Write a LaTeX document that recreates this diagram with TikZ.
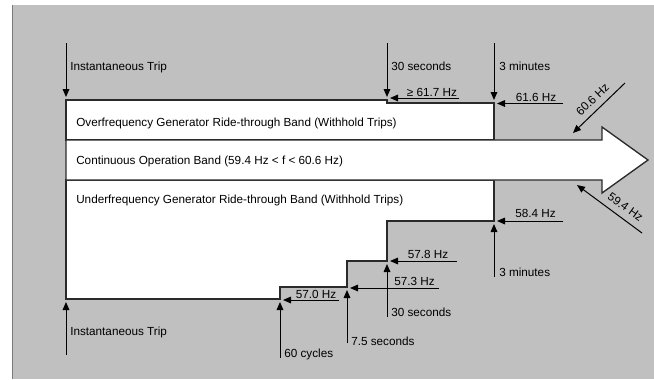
\documentclass[tikz,border=0pt]{standalone}
\usepackage{fontspec}
\setmainfont{Liberation Sans}
\usetikzlibrary{arrows.meta}
\definecolor{bggray}{HTML}{C0C0C0}
\definecolor{edgegray}{HTML}{7A7A7A}
\definecolor{bandline}{HTML}{2A2A2A}
\begin{document}
\begin{tikzpicture}[x=0.75pt,y=-0.75pt,
  lbl/.style={font=\fontsize{8.8}{10}\selectfont, inner sep=0pt, anchor=base west},
  clbl/.style={font=\fontsize{8.8}{10}\selectfont, inner sep=0pt, anchor=base},
  rlbl/.style={font=\fontsize{8.8}{10}\selectfont, inner sep=0pt},
  arr/.style={-{Triangle[length=6pt,width=5pt]}, line width=0.75pt, black},
  band/.style={fill=white, draw=bandline, line width=1pt}]
\useasboundingbox (0,0) rectangle (654,379);
\fill[white] (0,0) rectangle (654,379);
\fill[bggray] (12,5) rectangle (654,379);
\draw[edgegray, line width=1pt] (12.5,5) -- (12.5,379);
% bands
\draw[band] (66,100) -- (387,100) -- (387,103) -- (494,103) -- (494,140) -- (66,140) -- cycle;
\draw[band] (66,180) -- (494,180) -- (494,221) -- (387,221) -- (387,261) -- (347,261) -- (347,287) -- (280,287) -- (280,299) -- (66,299) -- cycle;
\draw[band] (66,140) -- (602,140) -- (602,127) -- (648,160) -- (602,193) -- (602,180) -- (66,180) -- cycle;
% band labels
\node[lbl] (over) at (76,126) {Overfrequency Generator Ride-through Band (Withhold Trips)};
\node[lbl] (cont) at (76,164) {Continuous Operation Band (59.4 Hz < f < 60.6 Hz)};
\node[lbl] (under) at (76,203) {Underfrequency Generator Ride-through Band (Withhold Trips)};
% top vertical arrows
\coordinate (t1a) at (66,43); \coordinate (t1b) at (66,97);
\coordinate (t2a) at (387,43); \coordinate (t2b) at (387,97);
\coordinate (t3a) at (494,43); \coordinate (t3b) at (494,100);
\draw[arr] (t1a) -- (t1b);
\draw[arr] (t2a) -- (t2b);
\draw[arr] (t3a) -- (t3b);
\node[lbl] (instTop) at (70,70) {Instantaneous Trip};
\node[lbl] (s30top) at (391,70) {30 seconds};
\node[lbl] (m3top) at (499,70) {3 minutes};
% top horizontal arrows
\coordinate (h1a) at (459,98); \coordinate (h1b) at (390,98);
\coordinate (h2a) at (563,103.5); \coordinate (h2b) at (497,103.5);
\draw[arr] (h1a) -- (h1b);
\draw[arr] (h2a) -- (h2b);
\node[clbl] (f617) at (432,96) {≥ 61.7 Hz};
\node[clbl] (f616) at (536,101.5) {61.6 Hz};
% diagonal arrows
\coordinate (d1a) at (625,83); \coordinate (d1b) at (573,133);
\coordinate (d2a) at (642,233); \coordinate (d2b) at (577,185);
\draw[arr] (d1a) -- (d1b);
\draw[arr] (d2a) -- (d2b);
\node[rlbl, rotate=44] (f606) at (592.5,99.5) {60.6 Hz};
\node[rlbl, rotate=-36] (f594) at (625.5,207) {59.4 Hz};
% bottom horizontal arrows
\coordinate (b1a) at (563,221); \coordinate (b1b) at (497,221);
\coordinate (b2a) at (457,261); \coordinate (b2b) at (390,261);
\coordinate (b3a) at (439,288); \coordinate (b3b) at (350,288);
\coordinate (b4a) at (339,300); \coordinate (b4b) at (283,300);
\draw[arr] (b1a) -- (b1b);
\draw[arr] (b2a) -- (b2b);
\draw[arr] (b3a) -- (b3b);
\draw[arr] (b4a) -- (b4b);
\node[clbl] (f584) at (535.5,217.5) {58.4 Hz};
\node[clbl] (f578) at (428,258.3) {57.8 Hz};
\node[clbl] (f573) at (414.5,285.3) {57.3 Hz};
\node[clbl] (f570) at (316,298) {57.0 Hz};
% bottom vertical arrows
\coordinate (v1a) at (66,355); \coordinate (v1b) at (66,302);
\coordinate (v2a) at (280,358); \coordinate (v2b) at (280,302);
\coordinate (v3a) at (347,343); \coordinate (v3b) at (347,290);
\coordinate (v4a) at (387,317); \coordinate (v4b) at (387,264);
\coordinate (v5a) at (494,277); \coordinate (v5b) at (494,224);
\draw[arr] (v1a) -- (v1b);
\draw[arr] (v2a) -- (v2b);
\draw[arr] (v3a) -- (v3b);
\draw[arr] (v4a) -- (v4b);
\draw[arr] (v5a) -- (v5b);
\node[lbl] (instBot) at (70,335) {Instantaneous Trip};
\node[lbl] (c60) at (284,357) {60 cycles};
\node[lbl] (s75) at (351,345) {7.5 seconds};
\node[lbl] (s30bot) at (391,316.5) {30 seconds};
\node[lbl] (m3bot) at (499,276.5) {3 minutes};
\end{tikzpicture}
\end{document}
